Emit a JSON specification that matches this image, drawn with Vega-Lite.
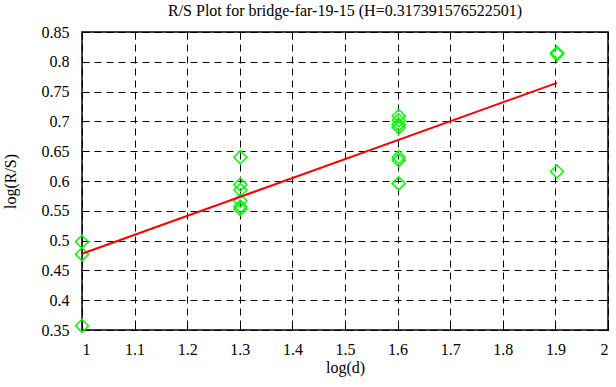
{
  "$schema": "https://vega.github.io/schema/vega-lite/v6.json",
  "width": 526,
  "height": 298,
  "autosize": {"type": "none"},
  "padding": {"left": 82, "top": 32, "right": 8, "bottom": 57},
  "background": "white",
  "title": {"text": "R/S Plot for bridge-far-19-15 (H=0.317391576522501)", "font": "Liberation Serif", "fontSize": 16, "fontWeight": "normal", "color": "black", "offset": 5},
  "config": {
    "view": {"stroke": "black", "strokeWidth": 1.5},
    "axis": {"labelFont": "Liberation Serif", "labelFontSize": 16, "labelColor": "black", "titleFont": "Liberation Serif", "titleFontSize": 16, "titleFontWeight": "normal", "titleColor": "black", "domain": false, "tickColor": "black", "tickSize": -7, "gridColor": "black", "gridDash": [7, 5], "gridOpacity": 1, "gridWidth": 1}
  },
  "datasets": {
    "pts": [
      {"x": 1.0, "y": 0.498}, {"x": 1.0, "y": 0.477}, {"x": 1.0, "y": 0.357},
      {"x": 1.30103, "y": 0.640}, {"x": 1.30103, "y": 0.594}, {"x": 1.30103, "y": 0.585}, {"x": 1.30103, "y": 0.567}, {"x": 1.30103, "y": 0.557}, {"x": 1.30103, "y": 0.553},
      {"x": 1.60206, "y": 0.709}, {"x": 1.60206, "y": 0.702}, {"x": 1.60206, "y": 0.695}, {"x": 1.60206, "y": 0.690}, {"x": 1.60206, "y": 0.640}, {"x": 1.60206, "y": 0.635}, {"x": 1.60206, "y": 0.596},
      {"x": 1.90309, "y": 0.815}, {"x": 1.90309, "y": 0.813}, {"x": 1.90309, "y": 0.616}
    ],
    "fit": [
      {"x": 1.0, "y": 0.478}, {"x": 1.90309, "y": 0.7646}
    ]
  },
  "layer": [
    {
      "data": {"name": "pts"},
      "mark": {"type": "point", "shape": "diamond", "filled": false, "color": "#00ff00", "size": 170, "strokeWidth": 1.5, "opacity": 1},
      "encoding": {
        "x": {"field": "x", "type": "quantitative", "scale": {"domain": [1, 2], "nice": false, "zero": false}, "axis": {"title": "log(d)", "labelFont": "Liberation Serif", "labelFontSize": 16, "values": [1, 1.1, 1.2, 1.3, 1.4, 1.5, 1.6, 1.7, 1.8, 1.9, 2], "format": ".1~f", "labelPadding": 18, "titlePadding": 2}},
        "y": {"field": "y", "type": "quantitative", "scale": {"domain": [0.35, 0.85], "nice": false, "zero": false}, "axis": {"title": "log(R/S)", "labelFont": "Liberation Serif", "labelFontSize": 16, "values": [0.35, 0.4, 0.45, 0.5, 0.55, 0.6, 0.65, 0.7, 0.75, 0.8, 0.85], "format": ".2~f", "labelPadding": 20, "titlePadding": 23}}
      }
    },
    {
      "data": {"name": "fit"},
      "mark": {"type": "line", "color": "#ff0000", "strokeWidth": 2},
      "encoding": {
        "x": {"field": "x", "type": "quantitative", "axis": {"orient": "top", "labels": false, "title": null, "grid": false, "values": [1, 1.1, 1.2, 1.3, 1.4, 1.5, 1.6, 1.7, 1.8, 1.9, 2]}},
        "y": {"field": "y", "type": "quantitative", "axis": {"orient": "right", "labels": false, "title": null, "grid": false, "values": [0.35, 0.4, 0.45, 0.5, 0.55, 0.6, 0.65, 0.7, 0.75, 0.8, 0.85]}}
      }
    }
  ],
  "resolve": {"axis": {"x": "independent", "y": "independent"}}
}
